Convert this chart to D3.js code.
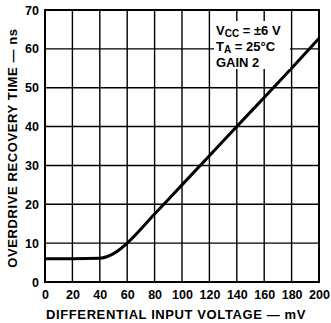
<!DOCTYPE html>
<html><head><meta charset="utf-8">
<script src="https://cdn.jsdelivr.net/npm/d3@7"></script>
<style>body{margin:0;background:#fff}text{font-family:"Liberation Sans",Arial,sans-serif;font-weight:bold;fill:#000}</style>
</head><body><svg id="c" width="331" height="323"></svg>
<script>
const xTicks=[0,20,40,60,80,100,120,140,160,180,200];
const yTicks=[0,10,20,30,40,50,60,70];
const voltage=[0,20,40,45,50,55,60,80,100,120,140,160,180,200];
const recovery=[6,6,6.1,6.5,7.3,8.5,10,17.5,25,32.5,40,47.5,55,62.7];
const svg=d3.select("#c");
const m={l:45,r:319,t:10,b:282};
const x=d3.scaleLinear().domain([0,200]).range([m.l,m.r]);
const y=d3.scaleLinear().domain([0,70]).range([m.b,m.t]);
const g=svg.append("g");
g.selectAll("line.vx").data(xTicks).join("line").attr("x1",d=>x(d)).attr("x2",d=>x(d)).attr("y1",m.t).attr("y2",m.b).attr("stroke","#000").attr("stroke-width",1.4);
g.selectAll("line.hy").data(yTicks).join("line").attr("y1",d=>y(d)).attr("y2",d=>y(d)).attr("x1",m.l).attr("x2",m.r).attr("stroke","#000").attr("stroke-width",1.4);
g.append("rect").attr("x",m.l).attr("y",m.t).attr("width",m.r-m.l).attr("height",m.b-m.t).attr("fill","none").attr("stroke","#000").attr("stroke-width",2);
const fs="12.5px";
const xa=svg.append("g").attr("transform",`translate(0,${m.b})`).call(d3.axisBottom(x).tickValues(xTicks).tickSize(0).tickPadding(8));
xa.select(".domain").remove();
xa.selectAll("text").style("font-size",fs).style("font-family","'Liberation Sans',Arial,sans-serif").style("font-weight","bold").attr("fill","#000");
const ya=svg.append("g").attr("transform",`translate(${m.l},0)`).call(d3.axisLeft(y).tickValues(yTicks).tickSize(0).tickPadding(6));
ya.select(".domain").remove();
ya.selectAll("text").style("font-size",fs).style("font-family","'Liberation Sans',Arial,sans-serif").style("font-weight","bold").attr("fill","#000");
const line=d3.line().x((d,i)=>x(voltage[i])).y(d=>y(d)).curve(d3.curveMonotoneX);
svg.append("path").attr("d",line(recovery)).attr("fill","none").attr("stroke","#000").attr("stroke-width",3);
svg.append("rect").attr("x",214).attr("y",21).attr("width",76).attr("height",48).attr("fill","#fff");
const ann=svg.append("g").style("font-size","13px");
const t1=ann.append("text").attr("x",216).attr("y",35);
t1.append("tspan").text("V");t1.append("tspan").attr("dy",2).style("font-size","10px").text("CC");t1.append("tspan").attr("dy",-2).text(" = ±6 V");
const t2=ann.append("text").attr("x",216).attr("y",51);
t2.append("tspan").text("T");t2.append("tspan").attr("dy",2).style("font-size","10px").text("A");t2.append("tspan").attr("dy",-2).text(" = 25°C");
ann.append("text").attr("x",216).attr("y",67).text("GAIN 2");
svg.append("text").attr("x",176).attr("y",319).attr("text-anchor","middle").style("font-size","13px").style("letter-spacing","0.6px").text("DIFFERENTIAL INPUT VOLTAGE — mV");
svg.append("text").attr("transform","translate(17,148) rotate(-90)").attr("text-anchor","middle").style("font-size","13px").style("letter-spacing","0.6px").text("OVERDRIVE RECOVERY TIME — ns");
</script></body></html>
